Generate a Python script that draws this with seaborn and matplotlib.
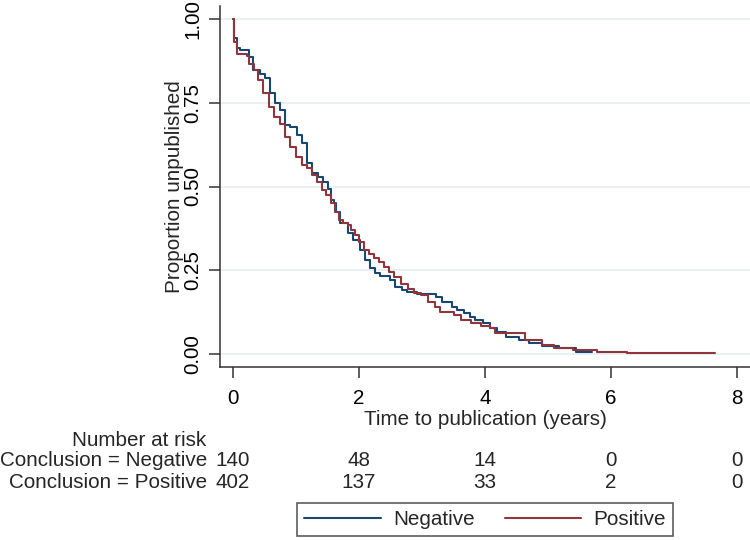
import pandas as pd
import numpy as np
import matplotlib
matplotlib.use("Agg")
import matplotlib.pyplot as plt
import seaborn as sns
from matplotlib.lines import Line2D

# --- Kaplan-Meier estimates ---
neg_time = [0, 0.02, 0.07, 0.11, 0.25, 0.32, 0.43, 0.51, 0.59, 0.67, 0.75, 0.83, 0.90, 1.01, 1.09,
            1.17, 1.26, 1.35, 1.43, 1.51, 1.55, 1.60, 1.64, 1.70, 1.83, 1.91, 2.01, 2.10, 2.17, 2.25,
            2.33, 2.49, 2.57, 2.68, 2.76, 2.92, 3.23, 3.31, 3.47, 3.55, 3.66, 3.76, 3.84, 3.97, 4.08,
            4.19, 4.33, 4.54, 4.70, 4.91, 5.17, 5.45, 5.70]
neg_surv = [1.0, 0.942, 0.913, 0.907, 0.886, 0.848, 0.836, 0.823, 0.778, 0.748, 0.728, 0.684, 0.679, 0.654, 0.629,
            0.569, 0.539, 0.529, 0.514, 0.494, 0.460, 0.450, 0.425, 0.390, 0.360, 0.340, 0.310, 0.280, 0.256, 0.241,
            0.233, 0.220, 0.201, 0.191, 0.186, 0.180, 0.171, 0.156, 0.141, 0.131, 0.121, 0.111, 0.101, 0.092, 0.077,
            0.067, 0.052, 0.042, 0.032, 0.024, 0.017, 0.007, 0.007]

pos_time = [0, 0.01, 0.07, 0.22, 0.26, 0.33, 0.40, 0.48, 0.57, 0.65, 0.75, 0.83, 0.90, 1.00, 1.09,
            1.17, 1.25, 1.33, 1.41, 1.48, 1.56, 1.62, 1.68, 1.74, 1.83, 1.88, 1.94, 2.00, 2.08, 2.16,
            2.24, 2.32, 2.40, 2.48, 2.56, 2.66, 2.77, 2.88, 2.98, 3.09, 3.20, 3.28, 3.51, 3.62, 3.78,
            3.94, 4.08, 4.16, 4.63, 4.90, 5.10, 5.40, 5.78, 6.25, 7.65]
pos_surv = [1.0, 0.932, 0.897, 0.890, 0.867, 0.848, 0.818, 0.778, 0.738, 0.708, 0.688, 0.649, 0.619, 0.589, 0.564,
            0.554, 0.534, 0.514, 0.490, 0.475, 0.450, 0.425, 0.400, 0.390, 0.385, 0.370, 0.355, 0.335, 0.310, 0.300,
            0.286, 0.276, 0.260, 0.244, 0.229, 0.210, 0.195, 0.183, 0.176, 0.156, 0.141, 0.126, 0.116, 0.101, 0.093,
            0.084, 0.077, 0.062, 0.042, 0.027, 0.017, 0.012, 0.005, 0.0025, 0.0025]

# --- Number at risk table ---
risk_times = [0, 2, 4, 6, 8]
risk_neg = [140, 48, 14, 0, 0]
risk_pos = [402, 137, 33, 2, 0]

groups = ["Negative", "Positive"]
colors = {"Negative": "#1a476f", "Positive": "#90353b"}

df = pd.concat([
    pd.DataFrame({"time": neg_time, "surv": neg_surv, "group": "Negative"}),
    pd.DataFrame({"time": pos_time, "surv": pos_surv, "group": "Positive"}),
], ignore_index=True)

sns.set_style("white")
plt.rcParams['font.family'] = ['Liberation Sans', 'DejaVu Sans']
FS = 14.9

fig = plt.figure(figsize=(7.5, 5.4), dpi=100)
ax = fig.add_axes([220 / 750, 1 - 367 / 540, (750 - 220) / 750, (367 - 6) / 540])

# grid lines first
for yv in [0, 0.25, 0.5, 0.75, 1.0]:
    ax.axhline(yv, color="#e3ecf0", lw=1.1, zorder=0)

sns.lineplot(data=df, x="time", y="surv", hue="group", palette=colors, estimator=None,
             drawstyle="steps-post", lw=1.5, legend=False, ax=ax, zorder=3)

ax.set_xlim((220 - 233) / 63, (750 - 233) / 63)
ax.set_ylim((354 - 367) / 335, (354 - 6) / 335)
ax.set_xticks([0, 2, 4, 6, 8])
ax.set_yticks([0, 0.25, 0.5, 0.75, 1.0])
ax.set_yticklabels(["0.00", "0.25", "0.50", "0.75", "1.00"])
for lbl in ax.get_yticklabels():
    lbl.set_rotation(90)
    lbl.set_va("center")
ax.tick_params(axis="both", direction="out", length=8, width=1.1, color="#333333",
               labelsize=FS, labelcolor="black", bottom=True, left=True)
ax.tick_params(axis="x", pad=8)
ax.tick_params(axis="y", pad=5)
ax.set_xlabel("Time to publication (years)", fontsize=FS, labelpad=1)
ax.set_ylabel("Proportion unpublished", fontsize=FS)
ax.yaxis.set_label_coords(-0.068, 0.5)
for side in ["top", "right"]:
    ax.spines[side].set_visible(False)
for side in ["left", "bottom"]:
    ax.spines[side].set_color("#333333")
    ax.spines[side].set_linewidth(1.1)
ax.set_facecolor("white")

# number at risk
ax.annotate("Number at risk", xy=(206, 540 - 440), xycoords="figure pixels",
            ha="right", va="center", fontsize=FS)
rows = [("Conclusion = Negative", risk_neg, 540 - 461), ("Conclusion = Positive", risk_pos, 540 - 482)]
for label, vals, ypix in rows:
    ax.annotate(label, xy=(207, ypix), xycoords="figure pixels", ha="right", va="center", fontsize=FS)
    for t, v in zip(risk_times, vals):
        ax.annotate(str(v), xy=(t, ypix), xycoords=("data", "figure pixels"),
                    ha="center", va="center", fontsize=FS, annotation_clip=False)

handles = [Line2D([0], [0], color=colors[g], lw=1.5) for g in groups]
leg = fig.legend(handles, groups, loc="center", bbox_to_anchor=(485 / 750, 1 - 519.5 / 540),
                 ncol=2, fontsize=FS, frameon=True, fancybox=False, handlelength=3.7,
                 handletextpad=0.6, columnspacing=1.45, borderpad=0.35)
leg.get_frame().set_edgecolor("#333333")
leg.get_frame().set_linewidth(1.2)

fig.savefig("out.png", dpi=100)
